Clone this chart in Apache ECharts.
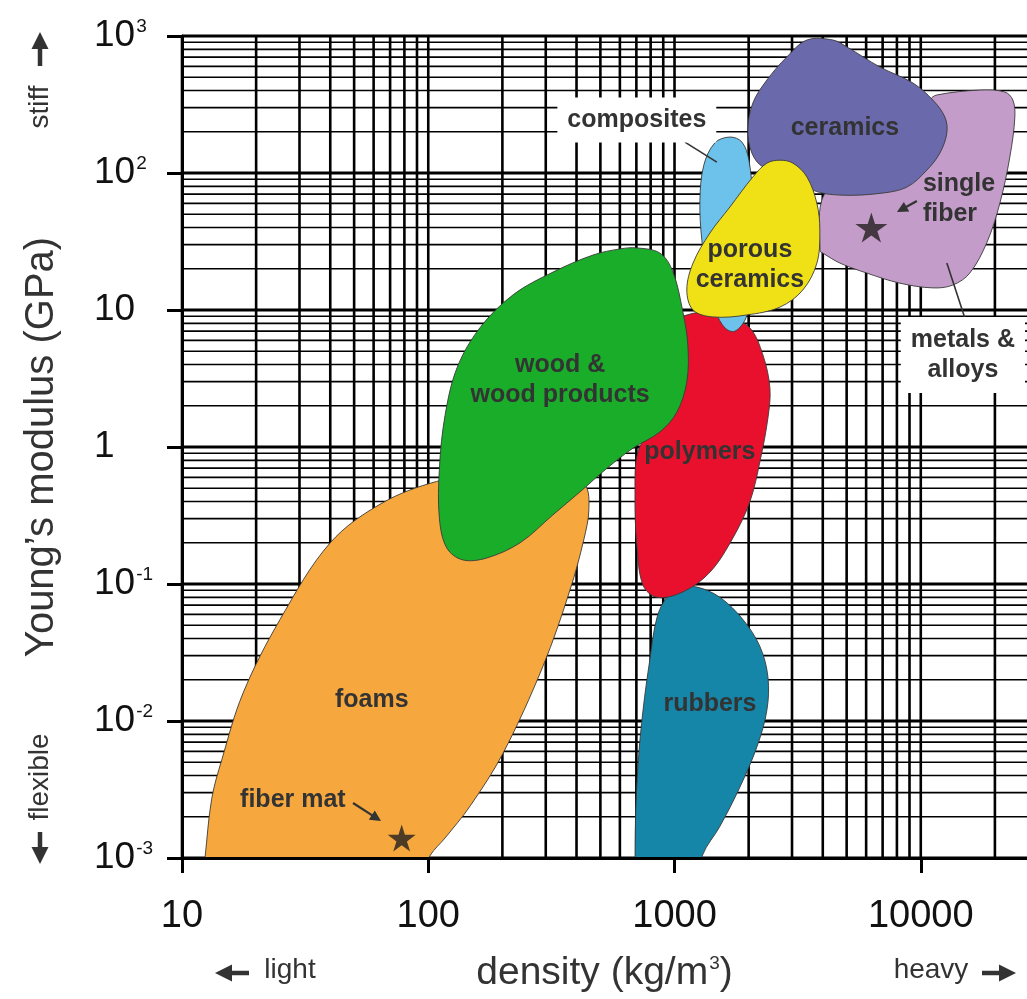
<!DOCTYPE html>
<html><head><meta charset="utf-8">
<script src="https://cdn.jsdelivr.net/npm/echarts@6/dist/echarts.min.js"></script>
<style>html,body{margin:0;padding:0;background:#fff}#c{width:1027px;height:999px}</style>
</head><body><div id="c"></div>
<script>
// ---------------- data (density kg/m3, Young's modulus GPa) ----------------
const xTickValues = [10, 100, 1000, 10000];
const xTickLabels = ['10', '100', '1000', '10000'];
const yTickValues = [0.001, 0.01, 0.1, 1, 10, 100, 1000];
const yTickLabels = ['10{sup|-3}', '10{sup|-2}', '10{sup|-1}', '1', '10', '10{sup|2}', '10{sup|3}'];
const minorSteps = [2, 3, 4, 5, 6, 7, 8, 9];

// outlines continue slightly below 10^-3 where the region is cut by the axis
const foams = [[11.9,0.0005],[12.4,0.001],[13.2,0.0027],[14.5,0.0052],[17.7,0.016],[25,0.055],[40,0.2],[65,0.39],[108,0.56],[195,0.68],[343,0.68],[433,0.53],[449,0.35],[428,0.21],[376,0.09],[292,0.025],[201,0.0058],[148,0.0024],[117,0.0014],[102,0.00105],[92,0.0007],[80,0.0005],[30,0.0005]];
const wood = [[703,28.4],[873,26],[985,19],[1081,9.7],[1133,5.5],[1122,3.0],[1023,1.8],[873,1.29],[678,0.98],[532,0.70],[413,0.47],[321,0.32],[236,0.20],[173,0.155],[138,0.15],[119,0.183],[111,0.30],[111,0.70],[117,1.7],[131,3.8],[162,7.4],[221,12.9],[321,18.9],[467,25.2],[600,27.9]];
const polymers = [[1122,9.2],[1355,9.66],[1679,8.75],[2024,7.4],[2285,4.7],[2440,2.7],[2395,1.63],[2222,0.78],[2024,0.40],[1727,0.217],[1393,0.122],[1081,0.0875],[849,0.080],[745,0.098],[703,0.193],[691,0.447],[710,0.92],[832,1.57],[940,4.3],[1052,8.45]];
const rubbers = [[1233,0.095],[1528,0.080],[1896,0.055],[2222,0.035],[2395,0.021],[2372,0.012],[2162,0.0065],[1844,0.0033],[1528,0.0017],[1300,0.00105],[1230,0.0006],[1000,0.0005],[700,0.0005],[692,0.0008],[695,0.002],[712,0.005],[745,0.012],[794,0.028],[849,0.057],[931,0.080],[1052,0.094]];
const composites = [[1679,183],[1879,168],[2005,124],[2080,63],[2100,27],[2060,14],[1950,8.75],[1758,7.0],[1603,7.4],[1473,9.7],[1368,16.6],[1292,32],[1268,63],[1315,114],[1459,166]];
const porousCeramics = [[2679,124],[3027,118],[3451,93.5],[3786,60],[3892,38],[3786,22],[3319,14],[2679,10.5],[1968,9.2],[1432,8.9],[1189,10],[1122,14],[1189,22],[1393,36.5],[1679,56.5],[2080,93.5],[2372,118]];
const ceramics = [[3451,935],[4395,935],[5012,832],[6823,594],[9290,454],[11190,341],[12530,256],[12760,196],[11960,140],[10590,105],[8790,79],[6823,71],[4695,69],[3648,75],[2944,100],[2285,111],[2061,140],[1986,206],[2080,324],[2372,477],[2858,703]];
const metals = [[11610,371],[17380,403],[21950,390],[23650,341],[24100,256],[23000,131],[20940,60],[18540,31],[15810,18.6],[13490,15.2],[11190,14.5],[8226,15.7],[6039,18.6],[4695,22],[4006,26],[3900,27],[3960,63],[4695,89],[8226,147],[10890,341]];

const stars = [[6300, 40], [78, 0.0014]];

// labels (text) with anchor points in data coordinates
const regionLabelTexts = ['ceramics', 'porous\nceramics', 'single\nfiber', 'polymers', 'wood &\nwood products', 'rubbers', 'foams', 'fiber mat', 'composites', 'metals &\nalloys'];
const regionLabelAnchors = [[4920,213],[2024,21.3],[10200,64.6],[1268,0.92],[343,3.08],[1393,0.0133],[59,0.0142],[28.2,0.00265],[703,244],[14830,4.7]];
const leaderLines = [[[1102,168],[1486,120]], [[12760,22],[15100,8.75]]];
const pointerArrows = [[[9640,62.5],[8000,51.9]], [[49.5,0.00252],[64.3,0.00186]]];

// ---------------- styles ----------------
const FONT = "'Liberation Sans', Arial, Helvetica, sans-serif";
const regionOrder = [
  {pts: metals, color: '#C39CC9'},
  {pts: ceramics, color: '#6A69AB'},
  {pts: rubbers, color: '#1686A8'},
  {pts: foams, color: '#F6A83E'},
  {pts: polymers, color: '#E8102D'},
  {pts: wood, color: '#19AD29'},
  {pts: composites, color: '#6CC2EA'},
  {pts: porousCeramics, color: '#F0E016'}
];
const labelStyle = [
  {}, {}, {align:'left'}, {}, {}, {}, {}, {}, {box:[8,10,7,10]}, {box:[8,10,8,10]}
];

function lookupLabel(v, values, labels) {
  const lv = Math.log10(v);
  for (let i = 0; i < values.length; i++) {
    if (Math.abs(Math.log10(values[i]) - lv) < 1e-6) return labels[i];
  }
  return '';
}

function arrowEls(p0, p1, head, width, color) {
  const dx = p1[0]-p0[0], dy = p1[1]-p0[1];
  const L = Math.hypot(dx, dy), ux = dx/L, uy = dy/L;
  const bx = p1[0]-ux*head, by = p1[1]-uy*head;
  const nx = -uy, ny = ux, hw = head*0.5;
  return [
    {type:'line', shape:{x1:p0[0], y1:p0[1], x2:bx+ux, y2:by+uy}, style:{stroke:color, lineWidth:width}},
    {type:'polygon', shape:{points:[[p1[0],p1[1]],[bx+nx*hw,by+ny*hw],[bx-nx*hw,by-ny*hw]]}, style:{fill:color}}
  ];
}

// grid line items (gridlines at 1..9 x each decade)
const gridItems = [];
xTickValues.forEach((d, i) => {
  gridItems.push([d, 1, 1]);
  minorSteps.forEach(m => { if (d*m <= 27000) gridItems.push([d*m, 1, 0]); });
});
yTickValues.forEach((d, i) => {
  gridItems.push([100, d, 3]);
  if (i < yTickValues.length - 1) minorSteps.forEach(m => gridItems.push([100, d*m, 2]));
});

const series = [];
series.push({
  type:'custom', coordinateSystem:'cartesian2d', silent:true, clip:false, z:1,
  data: gridItems, encode:{x:0, y:1},
  renderItem(params, api) {
    const cs = params.coordSys, kind = api.value(2);
    if (kind < 2) {
      const x = api.coord([api.value(0), 1])[0];
      return {type:'line', shape:{x1:x, y1:cs.y, x2:x, y2:cs.y+cs.height}, style:{stroke:'#000', lineWidth:2.6}};
    }
    const y = api.coord([100, api.value(1)])[1];
    return {type:'line', shape:{x1:cs.x, y1:y, x2:cs.x+cs.width, y2:y}, style:{stroke:'#000', lineWidth: kind === 3 ? 3 : 1.7}};
  }
});

regionOrder.forEach((r, k) => {
  series.push({
    type:'custom', coordinateSystem:'cartesian2d', silent:true, clip:true, z:2,
    data:[r.pts[1]], encode:{x:0, y:1},
    renderItem(params, api) {
      const points = r.pts.map(p => api.coord(p));
      return {type:'polygon', shape:{points, smooth:0.35}, style:{fill:r.color, stroke:'#3a3a3a', lineWidth:0.9}};
    }
  });
});

series.push({
  type:'custom', coordinateSystem:'cartesian2d', silent:true, clip:false, z:3,
  data:[[100, 1]], encode:{x:0, y:1},
  renderItem(params, api) {
    const c = p => api.coord(p);
    const children = [];
    leaderLines.forEach(l => {
      const a = c(l[0]), b = c(l[1]);
      children.push({type:'line', shape:{x1:a[0], y1:a[1], x2:b[0], y2:b[1]}, style:{stroke:'#333', lineWidth:1.6}});
    });
    pointerArrows.forEach(l => children.push(...arrowEls(c(l[0]), c(l[1]), 11, 2.2, '#333')));
    regionLabelTexts.forEach((t, i) => {
      const p = c(regionLabelAnchors[i]), s = labelStyle[i];
      const st = {text:t, fill:'#333', fontFamily:FONT, fontWeight:'bold', fontSize:25, lineHeight:30,
        align: s.align || 'center', verticalAlign:'middle'};
      if (s.box) { st.backgroundColor = '#fff'; st.padding = s.box; }
      children.push({type:'text', x:p[0], y:p[1], style:st});
    });
    return {type:'group', children};
  }
});

series.push({
  type:'scatter', z:4, silent:true,
  data: stars,
  symbol:'path://M50,0 L61,35 L98,35 L68,57 L79,91 L50,70 L21,91 L32,57 L2,35 L39,35 Z',
  symbolSize: (v, p) => p.dataIndex === 0 ? [32, 30] : [28, 27],
  itemStyle:{color:'#231F20'}
});

const option = {
  animation:false,
  backgroundColor:'#fff',
  grid:{left:182, right:0, top:36, bottom:141},
  xAxis:{
    type:'log', logBase:10, min:10, max:27000, z:10,
    name:'density (kg/m{sup|3})', nameLocation:'middle', nameGap:96,
    nameTextStyle:{fontFamily:FONT, fontSize:39, color:'#333', rich:{sup:{fontFamily:FONT, fontSize:19, color:'#333', verticalAlign:'top', padding:[0,0,0,1]}}},
    axisLine:{show:true, onZero:false, lineStyle:{color:'#000', width:3}},
    axisTick:{show:true, length:15, lineStyle:{color:'#000', width:3}, customValues:xTickValues},
    axisLabel:{customValues:xTickValues, margin:40, fontFamily:FONT, fontSize:38, color:'#111',
      formatter: v => lookupLabel(v, xTickValues, xTickLabels)},
    splitLine:{show:false}, minorTick:{show:false}
  },
  yAxis:{
    type:'log', logBase:10, min:0.001, max:1000, z:10, splitNumber:6,
    name:'Young\u2019s modulus (GPa)', nameLocation:'middle', nameGap:120,
    nameTextStyle:{fontFamily:FONT, fontSize:40, color:'#333'},
    axisLine:{show:true, onZero:false, lineStyle:{color:'#000', width:3}},
    axisTick:{show:true, length:15, lineStyle:{color:'#000', width:3}, customValues:yTickValues},
    axisLabel:{customValues:yTickValues, margin:88, align:'left', fontFamily:FONT, fontSize:37, color:'#111',
      formatter: v => lookupLabel(v, yTickValues, yTickLabels),
      rich:{sup:{fontFamily:FONT, fontSize:19, color:'#111', verticalAlign:'top', padding:[0,0,0,1]}}},
    splitLine:{show:false}, minorTick:{show:false}
  },
  graphic:[
    {type:'text', x:40, y:107, rotation:Math.PI/2, style:{text:'stiff', fontFamily:FONT, fontSize:28, fill:'#333', align:'center', verticalAlign:'middle'}},
    ...arrowEls([40,66],[40,32],17,4.5,'#333'),
    {type:'text', x:40, y:777, rotation:Math.PI/2, style:{text:'flexible', fontFamily:FONT, fontSize:28, fill:'#333', align:'center', verticalAlign:'middle'}},
    ...arrowEls([40,832],[40,864],17,4.5,'#333'),
    {type:'text', x:290, y:970, style:{text:'light', fontFamily:FONT, fontSize:28, fill:'#333', align:'center', verticalAlign:'middle'}},
    ...arrowEls([249,973],[215,973],17,4.5,'#333'),
    {type:'text', x:931, y:970, style:{text:'heavy', fontFamily:FONT, fontSize:28, fill:'#333', align:'center', verticalAlign:'middle'}},
    ...arrowEls([982,973],[1016,973],17,4.5,'#333')
  ],
  series
};

const chart = echarts.init(document.getElementById('c'));
chart.setOption(option);
</script>
</body></html>
